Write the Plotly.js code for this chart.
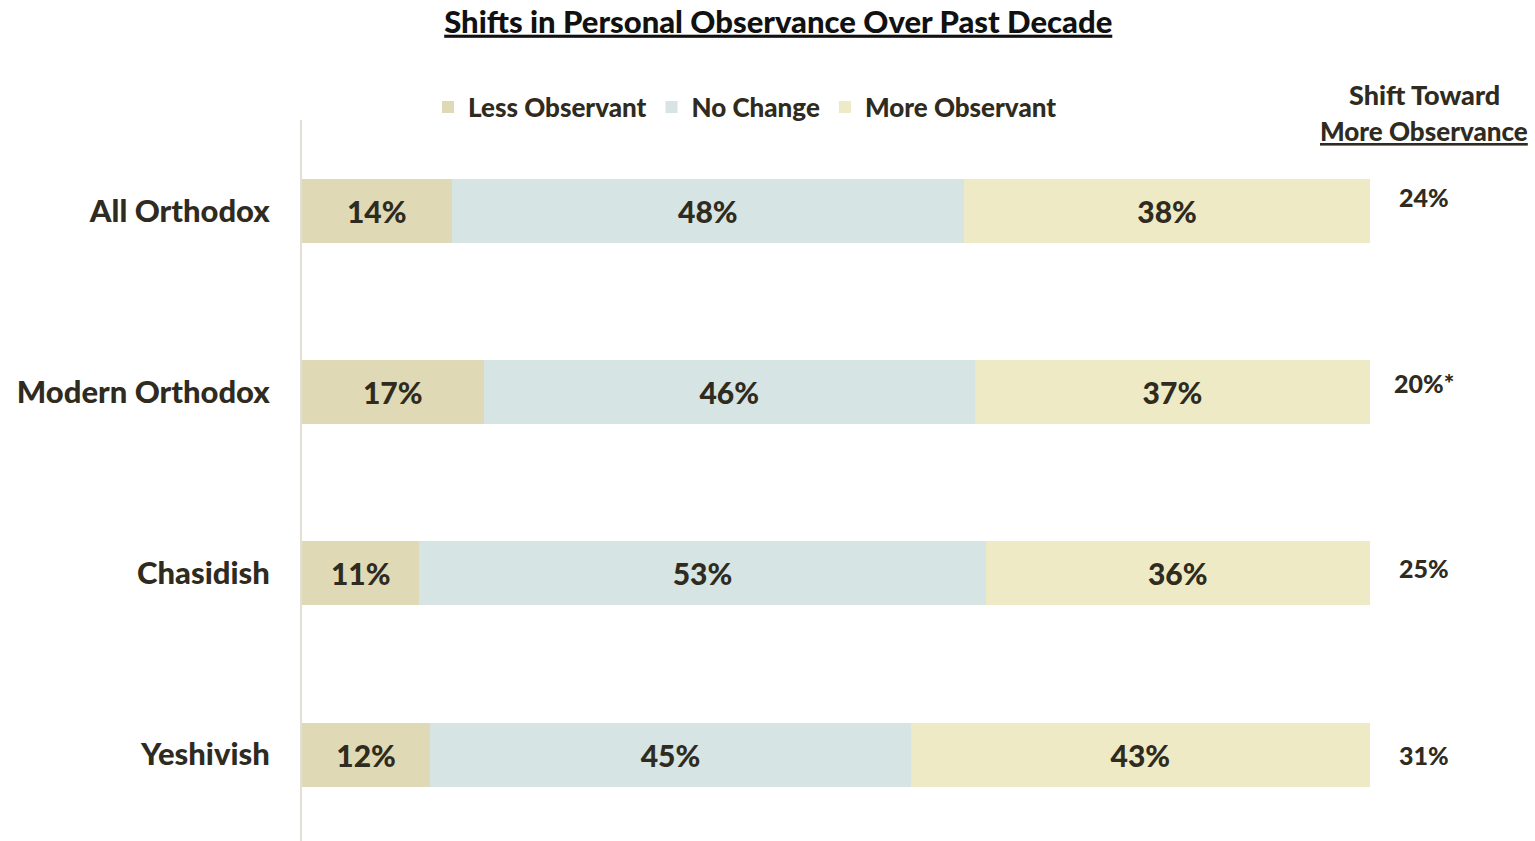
<!DOCTYPE html>
<html><head><meta charset="utf-8">
<script src="https://cdn.plot.ly/plotly-3.0.1.min.js"></script>
<style>html,body{margin:0;padding:0;background:#fff;}#chart{width:1535px;height:841px;}</style>
</head><body><div id="chart"></div>
<script>
const categories = ['All Orthodox', 'Modern Orthodox', 'Chasidish', 'Yeshivish'];
const lessObservant = [14, 17, 11, 12];
const noChange = [48, 46, 53, 45];
const moreObservant = [38, 37, 36, 43];
const shiftLabels = ['24%', '20%*', '25%', '31%'];
const seriesNames = ['Less Observant', 'No Change', 'More Observant'];

const colors = ['#DFDAB5', '#D6E4E3', '#EEEAC5'];
const textColor = '#2F2B20';
const FONT = 'Lato, "Noto Sans", sans-serif';
const W = 900;

const seriesData = [lessObservant, noChange, moreObservant];
const traces = seriesData.map((vals, i) => ({
  type: 'bar',
  orientation: 'h',
  name: seriesNames[i],
  y: categories,
  x: vals,
  marker: {color: colors[i], line: {width: 0}},
  text: vals.map(v => v + '%'),
  textposition: 'inside',
  insidetextanchor: 'middle',
  constraintext: 'none',
  textfont: {family: FONT, size: 30, color: textColor, weight: W},
  hoverinfo: 'skip'
}));

const shiftX = 1.0506;
const shiftYShift = [14, 9, 5, 0];
const annotations = [
  {xref: 'paper', yref: 'paper', x: shiftX, y: 1.036, xanchor: 'center', yanchor: 'middle',
   text: 'Shift Toward', showarrow: false,
   font: {family: FONT, size: 27, color: textColor, weight: W}},
  {xref: 'paper', yref: 'paper', x: shiftX, y: 0.985, xanchor: 'center', yanchor: 'middle',
   text: '<u>More Observance</u>', showarrow: false,
   font: {family: FONT, size: 26, color: textColor, weight: W}}
];
categories.forEach((c, i) => {
  annotations.push({
    xref: 'paper', yref: 'y', x: shiftX, y: c, xanchor: 'center', yanchor: 'middle',
    yshift: shiftYShift[i],
    text: shiftLabels[i], showarrow: false,
    font: {family: FONT, size: 25, color: textColor, weight: W}
  });
});

const layout = {
  width: 1535, height: 841,
  margin: {l: 302, r: 165, t: 120, b: 0, pad: 0},
  paper_bgcolor: '#fff', plot_bgcolor: '#fff',
  barmode: 'stack',
  bargap: 0.647,
  title: {
    text: '<u>Shifts in Personal Observance Over Past Decade</u>',
    x: 0.507, xanchor: 'center', y: 0.974, yanchor: 'middle',
    font: {family: FONT, size: 31, color: '#111', weight: W}
  },
  xaxis: {range: [0, 100], visible: false, fixedrange: true},
  yaxis: {
    type: 'category',
    range: [3.477, -0.5],
    showgrid: false, zeroline: false,
    showline: true, linecolor: '#E2DFD6', linewidth: 2,
    ticks: '', ticklabelstandoff: 24,
    tickfont: {family: FONT, size: 31, color: textColor, weight: W}
  },
  showlegend: true,
  legend: {
    orientation: 'h', x: 0.118, xanchor: 'left', y: 1.018, yanchor: 'middle',
    font: {family: FONT, size: 26, color: textColor, weight: W},
    traceorder: 'normal', itemclick: false, itemdoubleclick: false,
    bgcolor: 'rgba(0,0,0,0)'
  },
  annotations: annotations
};

Plotly.newPlot('chart', traces, layout, {displayModeBar: false, staticPlot: true});
</script></body></html>
